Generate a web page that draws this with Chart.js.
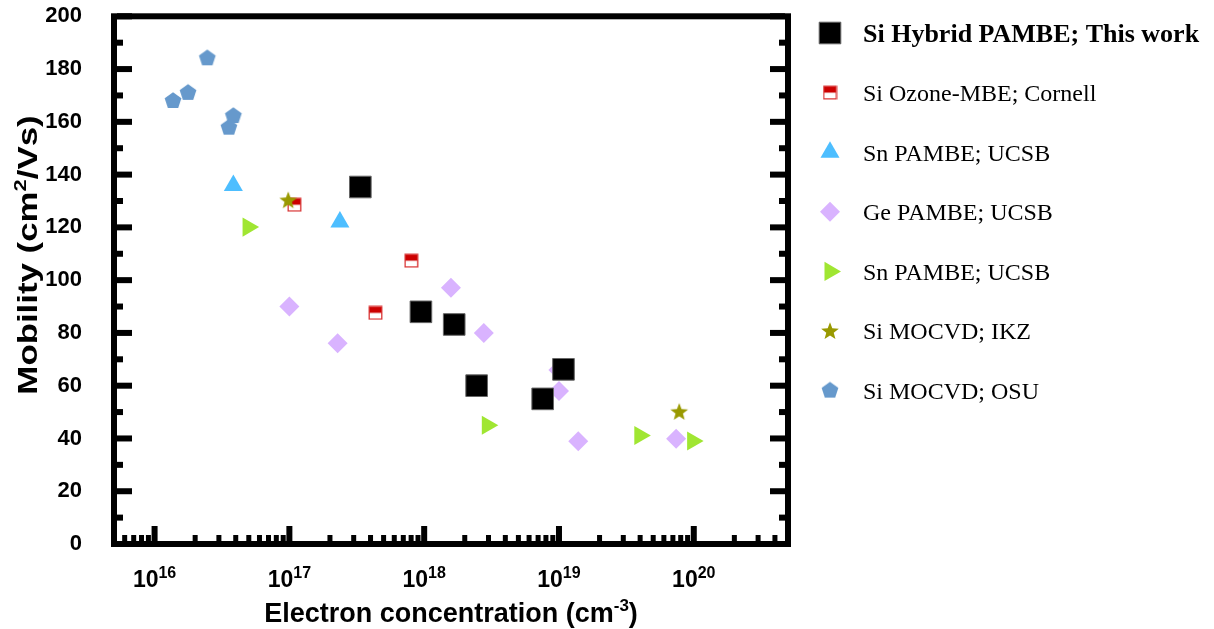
<!DOCTYPE html>
<html><head><meta charset="utf-8">
<script src="https://cdn.jsdelivr.net/npm/chart.js@4.4.1/dist/chart.umd.min.js"></script>
<style>html,body{margin:0;padding:0;background:#fff;}#wrap{width:1214px;height:629px;}</style>
</head><body><div id="wrap"><canvas id="c" width="1214" height="629"></canvas></div>
<script>
// ---- data ----
const seriesLabels = ['Si Hybrid PAMBE; This work','Si Ozone-MBE; Cornell','Sn PAMBE; UCSB','Ge PAMBE; UCSB','Sn PAMBE; UCSB','Si MOCVD; IKZ','Si MOCVD; OSU'];
const hybridX = [3.36e17, 9.46e17, 1.67e18, 2.45e18, 7.57e18, 1.08e19];
const hybridY = [135.3, 88.0, 83.2, 60.0, 55.0, 66.2];
const ozoneX = [1.09e17, 4.35e17, 8.03e17];
const ozoneY = [128.6, 87.6, 107.4];
const snTriX = [3.84e16, 2.37e17];
const snTriY = [135.9, 122.0];
const geX = [1.0e17, 2.28e17, 1.58e18, 2.77e18, 9.9e18, 1.0e19, 1.39e19, 7.4e19];
const geY = [90.0, 76.1, 97.1, 80.0, 65.9, 58.0, 38.9, 39.9];
const snRightX = [4.94e16, 2.94e18, 3.98e19, 9.8e19];
const snRightY = [120.1, 45.0, 41.1, 39.0];
const ikzX = [9.8e16, 7.8e19];
const ikzY = [130.3, 50.1];
const osuX = [1.37e16, 1.77e16, 2.46e16, 3.56e16, 3.84e16];
const osuY = [167.9, 171.0, 184.1, 157.8, 162.2];
const xDecades = [16, 17, 18, 19, 20];
const yTickStep = 20;

const SANS = "'Liberation Sans', Arial, sans-serif";
const SERIF = "'Liberation Serif', 'Times New Roman', serif";

function pts(xs, ys){ return xs.map((x,i)=>({x:x, y:ys[i]})); }
function makeCanvas(w,h,draw){ const c=document.createElement('canvas'); c.width=w; c.height=h; draw(c.getContext('2d')); return c; }

const halfSq = makeCanvas(15,15,g=>{
  g.fillStyle='#fff'; g.fillRect(1,1,13,13);
  g.fillStyle='#CC0000'; g.fillRect(1,1,13,6.5);
  g.strokeStyle='#D93636'; g.lineWidth=1.3; g.strokeRect(1.2,1.2,12.6,12.6);
});
const pentagon = makeCanvas(20,20,g=>{
  g.fillStyle='#6699CC'; g.beginPath();
  for(let i=0;i<5;i++){ const a=-Math.PI/2+i*2*Math.PI/5; const px=10+8.8*Math.cos(a), py=10+8.8*Math.sin(a); i?g.lineTo(px,py):g.moveTo(px,py);} 
  g.closePath(); g.fill();
});
const star = makeCanvas(22,22,g=>{
  g.fillStyle='#999900'; g.beginPath();
  for(let i=0;i<10;i++){ const r=i%2?3.9:9.3; const a=-Math.PI/2+i*Math.PI/5; const px=11+r*Math.cos(a), py=11.5+r*Math.sin(a); i?g.lineTo(px,py):g.moveTo(px,py);} 
  g.closePath(); g.fill();
});

const datasets = [
  {label:seriesLabels[0], data:pts(hybridX,hybridY), pointStyle:'rect', pointRadius:15.3, backgroundColor:'#000', borderColor:'#666', borderWidth:1, order:0},
  {label:seriesLabels[1], data:pts(ozoneX,ozoneY), pointStyle:halfSq, pointRadius:8, backgroundColor:'#CC0000', borderColor:'#CC0000', borderWidth:0, order:3},
  {label:seriesLabels[2], data:pts(snTriX,snTriY), pointStyle:'triangle', pointRadius:11, backgroundColor:'#4DBEFF', borderColor:'#4DBEFF', borderWidth:0, order:3},
  {label:seriesLabels[3], data:pts(geX,geY), pointStyle:'rectRot', pointRadius:10, backgroundColor:'#D9B3FF', borderColor:'#D9B3FF', borderWidth:0, order:3},
  {label:seriesLabels[4], data:pts(snRightX,snRightY), pointStyle:'triangle', pointRotation:90, pointRadius:11, backgroundColor:'#A0E632', borderColor:'#A0E632', borderWidth:0, order:3},
  {label:seriesLabels[5], data:pts(ikzX,ikzY), pointStyle:star, pointRadius:9, backgroundColor:'#999900', borderColor:'#999900', borderWidth:0, order:1},
  {label:seriesLabels[6], data:pts(osuX,osuY), pointStyle:pentagon, pointRadius:9, backgroundColor:'#6699CC', borderColor:'#6699CC', borderWidth:0, order:3}
];

function drawSup(ctx, parts, x, y, align){
  let total=0; parts.forEach(p=>{ctx.font=p.font; p.w=ctx.measureText(p.t).width; total+=p.w;});
  let cx = align==='center' ? x-total/2 : x;
  parts.forEach(p=>{ctx.font=p.font; ctx.fillText(p.t, cx, y+(p.dy||0)); cx+=p.w;});
}

const framePlugin = {
  id:'frame',
  afterDraw(chart){
    const {ctx, chartArea:a, scales} = chart;
    const xs = scales.x, ys = scales.y;
    ctx.save();
    ctx.fillStyle='#000';
    for(let v=0; v<=200; v+=yTickStep/2){
      const py = ys.getPixelForValue(v);
      const L = (v % yTickStep === 0) ? 15 : 6;
      ctx.fillRect(a.left+3, py-3, L, 6);
      ctx.fillRect(a.right-3-L, py-3, L, 6);
    }
    for(let k=15;k<=20;k++){
      for(let m=1;m<=9;m++){
        const v = m*Math.pow(10,k);
        if(v < xs.min*1.0001 || v > xs.max*0.9999) continue;
        const px = xs.getPixelForValue(v);
        if(m===1) ctx.fillRect(px-3, a.bottom-3-15, 6, 15);
        else ctx.fillRect(px-2.5, a.bottom-3-6, 5, 6);
      }
    }
    ctx.lineWidth=6; ctx.strokeStyle='#000';
    ctx.strokeRect(a.left, a.top, a.right-a.left, a.bottom-a.top);
    // x tick labels
    ctx.textBaseline='alphabetic'; ctx.textAlign='left'; ctx.fillStyle='#000';
    xDecades.forEach(k=>{
      const px = xs.getPixelForValue(Math.pow(10,k));
      drawSup(ctx, [{t:'10', font:'bold 23px '+SANS},{t:String(k), font:'bold 16px '+SANS, dy:-9}], px, 587, 'center');
    });
    // x title
    drawSup(ctx, [{t:'Electron concentration (cm', font:'bold 27px '+SANS},{t:'-3', font:'bold 17px '+SANS, dy:-11},{t:')', font:'bold 27px '+SANS}], (a.left+a.right)/2, 622, 'center');
    // y title
    ctx.save();
    ctx.translate(37, 255);
    ctx.rotate(-Math.PI/2);
    ctx.scale(1.29, 1);
    drawSup(ctx, [{t:'Mobility (cm', font:'bold 27px '+SANS},{t:'2', font:'bold 17px '+SANS, dy:-11},{t:'/Vs)', font:'bold 27px '+SANS}], 0, 0, 'center');
    ctx.restore();
    // legend
    const lx = 830, tx = 863, ly0 = 33, dy = 59.6;
    chart.data.datasets.forEach((ds,i)=>{
      const cy = ly0 + i*dy;
      ctx.save();
      ctx.fillStyle = ds.backgroundColor; ctx.strokeStyle = ds.borderColor; ctx.lineWidth = ds.borderWidth||0;
      Chart.helpers.drawPoint(ctx, {pointStyle:ds.pointStyle, rotation:ds.pointRotation||0, radius:ds.pointRadius, borderWidth:ds.borderWidth||0}, lx, cy);
      ctx.restore();
      ctx.fillStyle='#000'; ctx.textAlign='left'; ctx.textBaseline='alphabetic';
      ctx.font = i===0 ? 'bold 26px '+SERIF : '24px '+SERIF;
      ctx.fillText(ds.label, tx, cy + (i===0?8.7:8.3));
    });
    ctx.restore();
  }
};

Chart.defaults.font.family = SANS;
new Chart(document.getElementById('c'), {
  type:'scatter',
  data:{datasets:datasets},
  options:{
    responsive:false, animation:false, devicePixelRatio:1,
    layout:{padding:{left:0, top:16, right:426, bottom:0}},
    plugins:{legend:{display:false}, tooltip:{enabled:false}},
    scales:{
      x:{type:'logarithmic', min:5e15, max:5e20,
         ticks:{display:false}, grid:{display:false, drawTicks:false}, border:{display:false},
         afterFit:s=>{s.height=85; s.paddingLeft=0; s.paddingRight=0;}},
      y:{type:'linear', min:0, max:200,
         ticks:{stepSize:yTickStep, padding:32, color:'#000', font:{size:22, weight:'bold', family:SANS}},
         grid:{display:false, drawTicks:false}, border:{display:false},
         afterFit:s=>{s.width=114; s.paddingTop=0; s.paddingBottom=0;}}
    }
  },
  plugins:[framePlugin]
});
</script></body></html>
